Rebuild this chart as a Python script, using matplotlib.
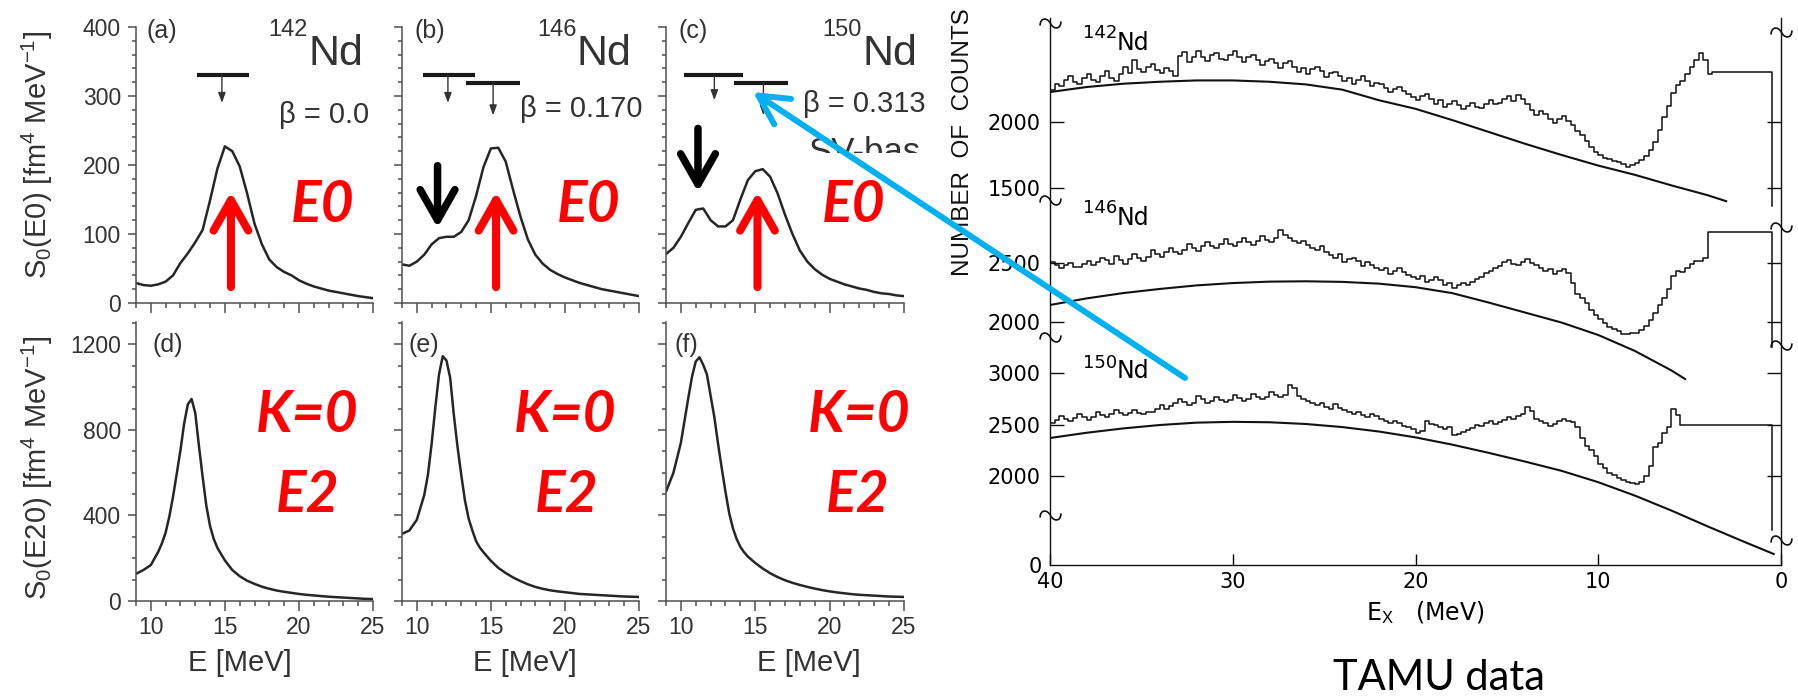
import numpy as np
import matplotlib
matplotlib.use("Agg")
import matplotlib.pyplot as plt
from matplotlib.ticker import MultipleLocator
from matplotlib.patches import ArrowStyle, FancyArrowPatch
from matplotlib.path import Path
from matplotlib.markers import MarkerStyle
from matplotlib.transforms import Bbox, TransformedBbox

plt.rcParams['font.family'] = ['Liberation Sans', 'DejaVu Sans']
plt.rcParams['mathtext.fontset'] = 'custom'
plt.rcParams['mathtext.rm'] = 'Liberation Sans'
plt.rcParams['mathtext.it'] = 'Liberation Sans:italic'
plt.rcParams['mathtext.bf'] = 'Liberation Sans:bold'

# ---------------------------------------------------------------- data
isotopes = ['142', '146', '150']
betas = ['0.0', '0.170', '0.313']
labels_e0 = ['(a)', '(b)', '(c)']
labels_e20 = ['(d)', '(e)', '(f)']

# monopole strength S0(E0) [fm^4/MeV]
e_e0 = [9.0, 9.5, 10.0, 10.5, 11.0, 11.5, 12.0, 12.5, 13.0, 13.5, 14.0, 14.5,
        15.0, 15.5, 16.0, 16.5, 17.0, 17.5, 18.0, 18.5, 19.0, 19.5, 20.0, 20.5,
        21.0, 21.5, 22.0, 22.5, 23.0, 23.5, 24.0, 24.5, 25.0]
s_e0_142 = [29, 26, 25, 27, 31, 40, 58, 72, 88, 106, 149, 195, 227, 220, 198, 159, 115,
            85, 63, 52, 45, 40, 33, 28, 24, 21, 18, 16, 14, 12, 10, 8.5, 7]
s_e0_146 = [56, 54, 60, 70, 85, 94, 96, 96, 103, 120, 155, 197, 224, 225, 205, 164, 125,
            92, 70, 57, 48, 42, 37, 33, 29, 26, 23, 20, 18, 16, 14, 12, 10]
s_e0_150 = [71, 80, 96, 116, 135, 137, 120, 111, 111, 120, 150, 178, 191, 194, 183, 159, 128,
            100, 76, 60, 49, 41, 35, 31, 27, 24, 21, 19, 16, 14, 13, 11, 10]

# quadrupole K=0 strength S0(E20) [fm^4/MeV]
e_e20 = [9.0, 9.5, 10.0, 10.5, 10.75, 11.0, 11.25, 11.5, 11.75, 12.0, 12.25, 12.5, 12.75,
         13.0, 13.25, 13.5, 13.75, 14.0, 14.25, 14.5, 15.0, 15.5, 16.0, 16.5, 17.0, 17.5,
         18.0, 18.5, 19.0, 19.5, 20.0, 20.5, 21.0, 21.5, 22.0, 22.5, 23.0, 23.5, 24.0,
         24.5, 25.0]
s_e20_142 = [127, 145, 168, 230, 270, 320, 395, 488, 595, 705, 830, 920, 945, 880, 725, 580,
             445, 350, 290, 248, 190, 145, 116, 95, 80, 67, 57, 49, 43, 38, 33, 29, 26, 23,
             20, 18, 16, 14, 12, 10, 9]
s_e20_146 = [314, 330, 380, 495, 590, 735, 905, 1060, 1145, 1125, 1045, 870, 720, 590, 470,
             385, 330, 280, 250, 228, 188, 155, 131, 110, 93, 78, 66, 57, 50, 45, 41, 37, 33,
             31, 29, 27, 25, 23, 21, 20, 19]
s_e20_150 = [511, 600, 740, 950, 1050, 1120, 1140, 1105, 1060, 960, 860, 735, 620, 510, 410,
             340, 290, 253, 228, 208, 178, 152, 130, 112, 97, 85, 75, 66, 58, 51, 45, 40, 36,
             32, 29, 27, 25, 23, 21, 20, 19]

# centroid bars: (E low, E high, level, arrow E, arrow tip)
centroids_142 = [(13.1, 16.6, 330, 14.8, 290)]
centroids_146 = [(10.4, 13.9, 330, 12.1, 290), (13.35, 16.95, 319, 15.15, 272)]
centroids_150 = [(10.2, 14.2, 330, 12.25, 294), (13.6, 17.2, 319, 15.55, 272)]

# marker arrows on the E0 strength
main_peak_e = [15.41, 15.35, 15.15]
main_peak_arrow = (23, 161)
low_peak_e = [None, 11.4, 11.15]
low_peak_arrow = [None, (199, 109), (253, 161)]

# TAMU (alpha,alpha') spectra, 0.25 MeV bins starting at Ex = 40 MeV going down
bin_width = 0.25
counts_142 = [
    2240, 2285, 2270, 2320, 2345, 2300, 2290, 2330, 2365, 2320,
    2300, 2350, 2385, 2335, 2310, 2360, 2420, 2370, 2470, 2400,
    2380, 2420, 2440, 2395, 2370, 2410, 2390, 2350, 2500, 2530,
    2455, 2490, 2540, 2495, 2465, 2505, 2525, 2480, 2470, 2510,
    2535, 2490, 2455, 2490, 2510, 2470, 2430, 2465, 2480, 2450,
    2410, 2445, 2460, 2420, 2380, 2410, 2365, 2400, 2420, 2385,
    2340, 2370, 2380, 2345, 2310, 2335, 2285, 2320, 2345, 2310,
    2270, 2295, 2285, 2255, 2225, 2250, 2265, 2235, 2215, 2190,
    2170, 2195, 2210, 2175, 2140, 2165, 2115, 2140, 2160, 2130,
    2100, 2125, 2145, 2115, 2105, 2140, 2165, 2135, 2145, 2175,
    2195, 2160, 2205, 2175, 2140, 2090, 2050, 2080, 2060, 2020,
    1990, 2025, 2045, 2010, 1975, 1930, 1900, 1855, 1810, 1770,
    1750, 1725, 1720, 1705, 1700, 1680, 1660, 1675, 1690, 1715,
    1740, 1790, 1850, 1940, 2040, 2120, 2220, 2280, 2310, 2360,
    2420, 2470, 2520, 2470, 2360, 2380, 2380, 2380, 2380, 2380,
    2380, 2380, 2380, 2380, 2380, 2380, 2380, 2380]
counts_146 = [
    2510, 2485, 2460, 2480, 2500, 2470, 2465, 2490, 2520, 2485,
    2505, 2540, 2525, 2490, 2560, 2525, 2495, 2530, 2580, 2545,
    2515, 2550, 2610, 2575, 2555, 2590, 2630, 2595, 2575, 2610,
    2660, 2625, 2605, 2640, 2680, 2645, 2625, 2660, 2700, 2665,
    2640, 2675, 2710, 2675, 2655, 2690, 2730, 2695, 2675, 2710,
    2780, 2740, 2715, 2690, 2670, 2690, 2655, 2625, 2610, 2640,
    2595, 2565, 2545, 2575, 2505, 2535, 2545, 2515, 2475, 2505,
    2485, 2455, 2440, 2460, 2405, 2435, 2455, 2425, 2400, 2380,
    2365, 2390, 2340, 2360, 2385, 2355, 2310, 2330, 2290, 2310,
    2330, 2310, 2340, 2365, 2385, 2415, 2430, 2455, 2475, 2505,
    2525, 2495, 2480, 2510, 2530, 2500, 2485, 2455, 2430, 2450,
    2410, 2430, 2445, 2415, 2330, 2240, 2200, 2160, 2100, 2060,
    2025, 1995, 1960, 1940, 1920, 1900, 1895, 1905, 1910, 1935,
    1965, 2020, 2080, 2140, 2200, 2280, 2390, 2430, 2425, 2455,
    2490, 2515, 2520, 2540, 2763, 2763, 2763, 2763, 2763, 2763,
    2763, 2763, 2763, 2763, 2763, 2763, 2763, 2763]
counts_150 = [
    2515, 2545, 2585, 2555, 2530, 2560, 2605, 2575, 2545, 2575,
    2625, 2595, 2575, 2605, 2645, 2615, 2590, 2610, 2640, 2610,
    2600, 2620, 2625, 2655, 2685, 2655, 2675, 2705, 2745, 2715,
    2690, 2710, 2775, 2745, 2710, 2730, 2765, 2735, 2720, 2740,
    2785, 2755, 2730, 2750, 2795, 2765, 2750, 2770, 2815, 2785,
    2770, 2790, 2880, 2850, 2775, 2745, 2730, 2710, 2690, 2710,
    2670, 2650, 2695, 2665, 2640, 2620, 2600, 2620, 2590, 2570,
    2600, 2580, 2550, 2530, 2510, 2530, 2510, 2490, 2480, 2460,
    2420, 2440, 2535, 2505, 2500, 2480, 2460, 2480, 2395, 2410,
    2430, 2450, 2470, 2495, 2490, 2510, 2535, 2505, 2520, 2540,
    2570, 2550, 2580, 2600, 2670, 2630, 2550, 2530, 2510, 2490,
    2505, 2535, 2550, 2530, 2520, 2480, 2370, 2290, 2250, 2190,
    2120, 2080, 2030, 2010, 1980, 1960, 1940, 1930, 1925, 1945,
    2000, 2100, 2280, 2320, 2420, 2480, 2650, 2590, 2495, 2495,
    2495, 2495, 2495, 2495, 2495, 2495, 2495, 2495, 2495, 2495,
    2495, 2495, 2495, 2495, 2495, 2495, 2495, 2495]
end_counts = [1360, 1790, 1476]

# smooth backgrounds
bg_e_142 = [40, 38, 36, 34, 32, 30, 28, 26, 24, 22, 20, 18, 16, 14, 12, 10, 8, 6, 4, 3]
bg_142 = [2227, 2265, 2290, 2305, 2315, 2315, 2305, 2285, 2245, 2165, 2100, 2015, 1925,
          1835, 1750, 1670, 1600, 1520, 1445, 1400]
bg_e_146 = [40, 38, 36, 34, 32, 30, 28, 26, 24, 22, 20, 18, 16, 14, 12, 10, 8, 6, 5.25]
bg_146 = [2144, 2200, 2245, 2280, 2310, 2330, 2342, 2345, 2340, 2325, 2295, 2245, 2165,
          2080, 1995, 1890, 1755, 1590, 1517]
bg_e_150 = [40, 38, 36, 34, 32, 30, 28, 26, 24, 22, 20, 18, 16, 14, 12, 10, 8, 6, 4, 2, 0.4]
bg_150 = [2369, 2420, 2462, 2495, 2518, 2526, 2522, 2505, 2475, 2432, 2375, 2305, 2225,
          2140, 2050, 1940, 1810, 1665, 1510, 1360, 1243]
count_ticks = [[1500, 2000], [2000, 2500], [2000, 2500, 3000]]
tamu_ticks = [40, 30, 20, 10, 0]

# ---------------------------------------------------------------- layout
W, H = 1798, 698
fig = plt.figure(figsize=(W / 100, H / 100), dpi=100)
fig.patch.set_facecolor('white')


def fx(x):
    return x / W


def fy(y):
    return 1 - y / H


def add_px_axes(left, top, right, bottom, label):
    return fig.add_axes([left / W, 1 - bottom / H, (right - left) / W, (bottom - top) / H],
                        label=label)


AX = '#505050'
TXT = '#333333'
CURVE = '#262626'
RED = '#ff0000'
BLUE = '#00b0f0'
INK = '#111111'

cols = [(136, 373), (402, 639), (666, 904)]


def style_panel(ax, ymax, ymaj, ymin, show_x, show_y):
    ax.set_xlim(9, 25)
    ax.set_ylim(0, ymax)
    for s in ('top', 'right'):
        ax.spines[s].set_visible(False)
    for s in ('left', 'bottom'):
        ax.spines[s].set_color(AX)
        ax.spines[s].set_linewidth(1.1)
    ax.xaxis.set_major_locator(MultipleLocator(5))
    ax.xaxis.set_minor_locator(MultipleLocator(1))
    ax.yaxis.set_major_locator(MultipleLocator(ymaj))
    ax.yaxis.set_minor_locator(MultipleLocator(ymin))
    ax.tick_params(axis='x', which='major', direction='out', length=7, width=1.1, color=AX,
                   labelsize=16.5, labelcolor=TXT, pad=4, labelbottom=show_x)
    ax.tick_params(axis='x', which='minor', direction='out', length=3.5, width=1.1, color=AX)
    ax.tick_params(axis='y', which='major', direction='out', length=5.8, width=1.1, color=AX,
                   labelsize=16.5, labelcolor=TXT, pad=5, labelleft=show_y)
    ax.tick_params(axis='y', which='minor', direction='out', length=2.9, width=1.1, color=AX)


big_arrow = ArrowStyle('->', head_length=22, head_width=12.5)
small_arrow = ArrowStyle('-|>', head_length=6, head_width=2.2)

e0_curves = [s_e0_142, s_e0_146, s_e0_150]
e20_curves = [s_e20_142, s_e20_146, s_e20_150]
centroids = [centroids_142, centroids_146, centroids_150]

top_axes, bot_axes = [], []
for i, (x0, x1) in enumerate(cols):
    at = add_px_axes(x0, 27, x1, 303, 'e0_%d' % i)
    ab = add_px_axes(x0, 322, x1, 601, 'e20_%d' % i)
    style_panel(at, 400, 100, 20, False, i == 0)
    style_panel(ab, 1305, 400, 100, True, i == 0)
    at.plot(e_e0, e0_curves[i], color=CURVE, lw=1.8, solid_capstyle='round')
    ab.plot(e_e20, e20_curves[i], color=CURVE, lw=1.8, solid_capstyle='round')

    for lo, hi, lev, ex, tip in centroids[i]:
        at.plot([lo, hi], [lev, lev], color='#1a1a1a', lw=3.0, solid_capstyle='butt')
        at.annotate('', xy=(ex, tip), xytext=(ex, lev), annotation_clip=False,
                    arrowprops=dict(arrowstyle=small_arrow, mutation_scale=1, lw=1.0,
                                    color='#333333', shrinkA=0, shrinkB=0))

    at.annotate('', xy=(main_peak_e[i], main_peak_arrow[1]),
                xytext=(main_peak_e[i], main_peak_arrow[0]), annotation_clip=False,
                arrowprops=dict(arrowstyle=big_arrow, mutation_scale=1, lw=5.8, color=RED,
                                shrinkA=0, shrinkB=0))
    if low_peak_e[i] is not None:
        y_from, y_to = low_peak_arrow[i]
        at.annotate('', xy=(low_peak_e[i], y_to), xytext=(low_peak_e[i], y_from),
                    annotation_clip=False,
                    arrowprops=dict(arrowstyle=big_arrow, mutation_scale=1, lw=5.4,
                                    color='black', shrinkA=0, shrinkB=0))
    top_axes.append(at)
    bot_axes.append(ab)

# axis labels
top_axes[0].set_ylabel(r'S$_0$(E0) [fm$^4$ MeV$^{-1}$]', fontsize=21, color=TXT,
                       va='center', ha='center')
top_axes[0].yaxis.set_label_coords((37 - 136) / 237, (303 - 155) / 276)
bot_axes[0].set_ylabel(r'S$_0$(E20) [fm$^4$ MeV$^{-1}$]', fontsize=21, color=TXT,
                       va='center', ha='center')
bot_axes[0].yaxis.set_label_coords((37 - 136) / 237, (601 - 468) / 279)
xlab_pos = [0.44, 0.52, 0.6]
for i, ab in enumerate(bot_axes):
    ab.set_xlabel('E [MeV]', fontsize=21, color=TXT, va='center')
    ab.xaxis.set_label_coords(xlab_pos[i], (601 - 663) / 279)

# panel annotations
lab_x_top = [146, 414, 679]
lab_x_bot = [153, 408, 675]
iso_split = [308, 577, 862]
beta_x = [279, 520, 803]
beta_base = [123, 117, 112]
e0_x = [323, 589, 854]
k0_x = [307, 565, 859]
e2_x = [308, 567, 858]
for i in range(3):
    fig.text(fx(lab_x_top[i]), fy(38), labels_e0[i], fontsize=18, color=TXT, va='baseline')
    fig.text(fx(lab_x_bot[i]), fy(352), labels_e20[i], fontsize=18, color=TXT, va='baseline')
    fig.text(fx(iso_split[i]), fy(36), isotopes[i], fontsize=17, color=TXT,
             ha='right', va='baseline')
    fig.text(fx(iso_split[i]), fy(65), 'Nd', fontsize=31, color=TXT, ha='left', va='baseline')
    fig.text(fx(beta_x[i]), fy(beta_base[i]), '\u03b2 = ' + betas[i], fontsize=21,
             color=TXT, ha='left', va='baseline')
    fig.text(fx(e0_x[i]), fy(222), 'E0', fontsize=41, color=RED, family='Lato',
             weight='bold', style='italic', ha='center', va='baseline')
    fig.text(fx(k0_x[i]), fy(432), 'K=0', fontsize=41, color=RED, family='Lato',
             weight='bold', style='italic', ha='center', va='baseline')
    fig.text(fx(e2_x[i]), fy(512), 'E2', fontsize=41, color=RED, family='Lato',
             weight='bold', style='italic', ha='center', va='baseline')

# model name, lower half hidden behind the panel
sv = fig.text(fx(808), fy(162), 'SV-bas', fontsize=25, color=TXT, ha='left', va='baseline')
sv.set_clip_box(TransformedBbox(Bbox([[0.4, fy(153)], [0.6, 1.0]]), fig.transFigure))
sv.set_clip_on(True)

# ---------------------------------------------------------------- TAMU spectra
T_L, T_T, T_R, T_B = 1050, 18, 1781, 565
tamu = add_px_axes(T_L, T_T, T_R, T_B, 'tamu')
tamu.set_xlim(40, 0)
tamu.set_ylim(0, 1)
tamu.spines['top'].set_visible(False)
for s in ('left', 'right', 'bottom'):
    tamu.spines[s].set_linewidth(1.0)
    tamu.spines[s].set_color(INK)
tamu.set_xticks(tamu_ticks)
tamu.tick_params(axis='x', direction='in', length=8, width=1.0, labelsize=15, pad=5)
tamu.set_yticks([0])
tamu.set_yticklabels(['0'])
tamu.tick_params(axis='y', length=0, labelsize=15, pad=6)
for lbl in tamu.get_xticklabels() + tamu.get_yticklabels():
    lbl.set_fontfamily('DejaVu Sans')
tamu.set_xlabel(r'E$_\mathrm{X}$   (MeV)', fontsize=17, family='DejaVu Sans', va='center')
tamu.xaxis.set_label_coords((1425 - T_L) / (T_R - T_L), (T_B - 613) / (T_B - T_T))

# axis-break squiggles
brk_path = Path([(-1.0, -0.2), (-1.0, 0.6), (-0.3, 0.6), (0.0, 0.0),
                 (0.3, -0.6), (1.0, -0.6), (1.0, 0.2)],
                [Path.MOVETO, Path.CURVE4, Path.CURVE4, Path.CURVE4,
                 Path.CURVE4, Path.CURVE4, Path.CURVE4])
brk = MarkerStyle(brk_path)
left_breaks = [23, 200, 337, 515]
right_breaks = [32, 227, 345, 540]
for xa, ys in ((0, left_breaks), (1, right_breaks)):
    for yb in ys:
        tamu.plot([xa], [(T_B - yb) / (T_B - T_T)], marker=brk, ms=15, mew=1.2,
                  mfc='none', mec=INK, transform=tamu.transAxes, clip_on=False)

# one count scale per nucleus
count_limits = [(-1356, 2788), (-59, 4576), (1136, 6447)]
all_counts = [counts_142, counts_146, counts_150]
all_bg = [(bg_e_142, bg_142), (bg_e_146, bg_146), (bg_e_150, bg_150)]
for k in range(3):
    ov = add_px_axes(T_L, T_T, T_R, T_B, 'counts_%d' % k)
    ov.set_xlim(40, 0)
    ov.set_ylim(*count_limits[k])
    ov.patch.set_visible(False)
    for s in ov.spines.values():
        s.set_visible(False)
    ov.set_xticks([])
    ov.set_yticks(count_ticks[k])
    ov.tick_params(axis='y', direction='in', left=True, right=True, length=10, width=1.0,
                   labelsize=15, pad=7, color=INK)
    for lbl in ov.get_yticklabels():
        lbl.set_fontfamily('DejaVu Sans')
    vals = all_counts[k]
    edges = 40 - bin_width * np.arange(len(vals) + 1)
    ov.plot(edges, list(vals) + [end_counts[k]], drawstyle='steps-post', color=INK, lw=1.1)
    ov.plot(all_bg[k][0], all_bg[k][1], color=INK, lw=1.5)

iso_tamu = [(38, 50), (213, 225), (368, 378)]
for k, (yn, yl) in enumerate(iso_tamu):
    fig.text(fx(1117), fy(yn), isotopes[k], fontsize=13, family='DejaVu Sans',
             ha='right', va='baseline')
    fig.text(fx(1117), fy(yl), 'Nd', fontsize=17, family='DejaVu Sans',
             ha='left', va='baseline')

fig.text(fx(963), fy(142), 'NUMBER  OF  COUNTS', fontsize=17.5, rotation=90,
         ha='center', va='center', color=INK)
fig.text(fx(1439), fy(678), 'TAMU data', fontsize=30, family='Lato', ha='center',
         va='center', color='black')

# link from the spectra to the centroid marker
link = FancyArrowPatch(posA=(fx(1185), fy(378)), posB=(fx(753), fy(92)),
                       transform=fig.transFigure,
                       arrowstyle=ArrowStyle('->', head_length=21, head_width=11),
                       mutation_scale=1, lw=4.3, color=BLUE, shrinkA=0, shrinkB=0,
                       zorder=20)
fig.add_artist(link)

fig.savefig('out.png', dpi=100, facecolor='white')
